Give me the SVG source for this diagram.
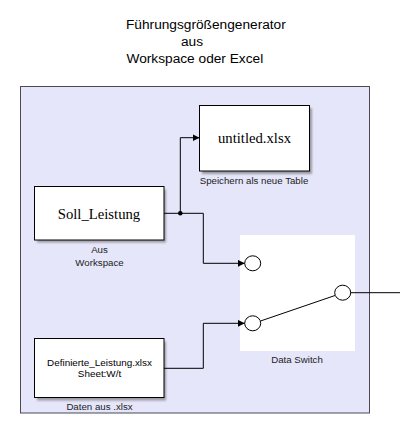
<svg xmlns="http://www.w3.org/2000/svg" width="400" height="438" viewBox="0 0 400 438">
<style>
.title{font-family:"Liberation Sans",Arial,sans-serif;font-size:13.7px;fill:#000}
.lbl{font-family:"Liberation Sans",Arial,sans-serif;font-size:9.7px;fill:#222;text-anchor:middle}
.blk{fill:#fff;stroke:#000;stroke-width:1}
.serif{font-family:"Liberation Serif","Times New Roman",serif;font-size:14.7px;fill:#000;text-anchor:middle}
.sans{font-family:"Liberation Sans",Arial,sans-serif;font-size:9.9px;fill:#000;text-anchor:middle}
.wire{fill:none;stroke:#000;stroke-width:1}
.port{fill:#fff;stroke:#000;stroke-width:1}
</style>
<defs>
<marker id="arr" markerUnits="userSpaceOnUse" markerWidth="8" markerHeight="8" refX="7" refY="3.5" orient="auto">
<path d="M0,0 L7,3.5 L0,7 z" fill="#000"/>
</marker>
<filter id="sh" x="-10%" y="-10%" width="130%" height="130%">
<feGaussianBlur stdDeviation="1.2"/>
</filter>
</defs>
<g id="title">
<text class="title" x="126" y="29">Führungsgrößengenerator</text>
<text class="title" x="181" y="46">aus</text>
<text class="title" x="126.5" y="63">Workspace oder Excel</text>
</g>
<g id="subsystem">
<rect x="20.5" y="86.5" width="349" height="326.5" fill="#e6e6fa" stroke="#4a4a58" stroke-width="1"/>
</g>
<g id="soll_leistung">
<rect x="37" y="189.5" width="129" height="53" fill="#666" opacity="0.6" filter="url(#sh)"/>
<rect class="blk" x="34.5" y="186.5" width="129.5" height="53.5"/>
<text class="serif" x="99" y="218.5">Soll_Leistung</text>
<text class="lbl" x="99.5" y="253">Aus</text>
<text class="lbl" x="99.5" y="266">Workspace</text>
</g>
<g id="untitled_xlsx">
<rect x="202" y="108" width="110" height="66" fill="#666" opacity="0.6" filter="url(#sh)"/>
<rect class="blk" x="199.5" y="105.5" width="110" height="65.5"/>
<text class="serif" x="254.5" y="143">untitled.xlsx</text>
<text class="lbl" x="254" y="184">Speichern als neue Table</text>
</g>
<g id="definierte_leistung">
<rect x="37" y="341.5" width="129" height="59" fill="#666" opacity="0.6" filter="url(#sh)"/>
<rect class="blk" x="34.5" y="338.5" width="129.5" height="59"/>
<text class="sans" x="99.5" y="365.5">Definierte_Leistung.xlsx</text>
<text class="sans" x="99.5" y="377">Sheet:W/t</text>
<text class="lbl" x="99.5" y="410">Daten aus .xlsx</text>
</g>
<g id="data_switch">
<rect x="240" y="235" width="115" height="116" fill="#fff"/>
<ellipse class="port" cx="252.7" cy="263.3" rx="8" ry="7.5"/>
<ellipse class="port" cx="252.7" cy="323.3" rx="8" ry="7.5"/>
<ellipse class="port" cx="342.7" cy="292.7" rx="8" ry="7.5"/>
<line class="wire" x1="260.5" y1="321" x2="335" y2="295.5"/>
<text class="lbl" x="297" y="363">Data Switch</text>
</g>
<g id="connectors">
<polyline class="wire" points="164,213.3 203.3,213.3 203.3,263.3 244.7,263.3" marker-end="url(#arr)"/>
<polyline class="wire" points="180.3,213.3 180.3,137.7 199.5,137.7" marker-end="url(#arr)"/>
<circle cx="180.3" cy="213.3" r="2.3" fill="#000"/>
<polyline class="wire" points="164,368.3 203.3,368.3 203.3,323.3 244.7,323.3" marker-end="url(#arr)"/>
<line class="wire" x1="350.7" y1="292.7" x2="400" y2="292.7"/>
</g>
</svg>
